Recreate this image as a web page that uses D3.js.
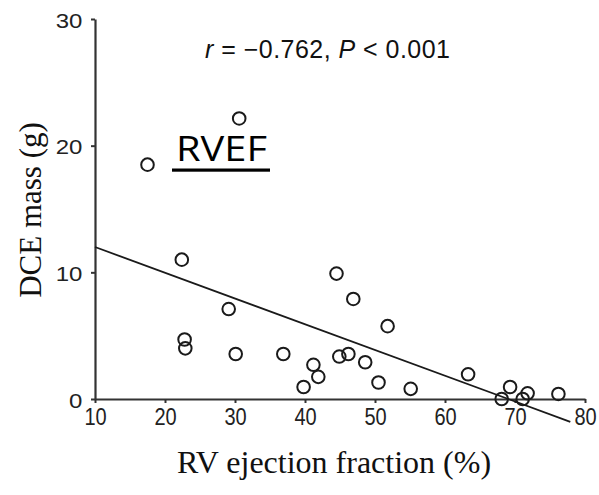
<!DOCTYPE html>
<html>
<head>
<meta charset="utf-8">
<script src="https://cdn.jsdelivr.net/npm/d3@7"></script>
<style>
  html, body { margin: 0; padding: 0; background: #fff; }
  svg { display: block; }
</style>
</head>
<body>
<svg id="chart" width="599" height="495"></svg>
<script>
// RV ejection fraction (%) per patient
const rvef = [17.5, 30.6, 22.4, 29.1, 22.8, 22.9, 30.1, 36.9, 39.8,
              44.5, 46.9, 51.8, 41.2, 41.9, 44.9, 46.2, 48.6, 50.5,
              55.1, 63.3, 69.3, 68.1, 71.8, 71.1, 76.2];
// DCE mass (g) per patient
const dceMass = [18.5, 22.15, 11.0, 7.1, 4.7, 4.0, 3.55, 3.55, 0.95,
                 9.9, 7.9, 5.75, 2.7, 1.75, 3.35, 3.55, 2.9, 1.3,
                 0.8, 1.95, 0.95, 0.0, 0.45, 0.0, 0.4];
// Least-squares fit line end points
const fitX = [10, 77.9];
const fitY = [12.0, -1.8];

const xTicks = [10, 20, 30, 40, 50, 60, 70, 80];
const yTicks = [0, 10, 20, 30];

const svg = d3.select("#chart");

const x = d3.scaleLinear().domain([10, 80]).range([95, 585]);
const y = d3.scaleLinear().domain([0, 30]).range([399, 19]);

const axisColor = "#333";

// x axis
const gx = svg.append("g")
  .attr("transform", `translate(0,${y(0)})`)
  .call(d3.axisBottom(x).tickValues(xTicks).tickSize(4).tickSizeOuter(0));
gx.select(".domain").attr("stroke", axisColor).attr("stroke-width", 2.2);
gx.selectAll(".tick line").attr("stroke", axisColor).attr("stroke-width", 2);
gx.selectAll(".tick text")
  .attr("y", 22).attr("dy", 0)
  .attr("transform", "scale(1,1.18)")
  .attr("fill", "#222")
  .style("font-family", "'Liberation Sans', Arial, sans-serif")
  .style("font-size", "20px");

// y axis
const gy = svg.append("g")
  .attr("transform", `translate(${x(10)},0)`)
  .call(d3.axisLeft(y).tickValues(yTicks).tickSize(4).tickSizeOuter(0));
gy.select(".domain").attr("stroke", axisColor).attr("stroke-width", 2.2);
gy.selectAll(".tick line").attr("stroke", axisColor).attr("stroke-width", 2);
gy.selectAll(".tick text")
  .attr("x", -10.5).attr("dy", "0.4em")
  .attr("transform", "scale(1.2,1)")
  .attr("fill", "#222")
  .style("font-family", "'Liberation Sans', Arial, sans-serif")
  .style("font-size", "20px");

// regression line
svg.append("path")
  .datum(d3.zip(fitX, fitY))
  .attr("fill", "none")
  .attr("stroke", "#1a1a1a")
  .attr("stroke-width", 1.8)
  .attr("d", d3.line().x(d => x(d[0])).y(d => y(d[1])));

// data points
svg.append("g")
  .selectAll("circle")
  .data(d3.zip(rvef, dceMass))
  .join("circle")
  .attr("cx", d => x(d[0]))
  .attr("cy", d => y(d[1]))
  .attr("r", 6.3)
  .attr("fill", "none")
  .attr("stroke", "#1a1a1a")
  .attr("stroke-width", 2);

// correlation annotation
const stat = svg.append("text")
  .attr("x", 205).attr("y", 58)
  .attr("fill", "#111")
  .attr("textLength", 245)
  .attr("lengthAdjust", "spacing")
  .style("font-family", "'Liberation Sans', Arial, sans-serif")
  .style("font-size", "25px");
stat.append("tspan").style("font-style", "italic").text("r");
stat.append("tspan").text(" = \u22120.762, ");
stat.append("tspan").style("font-style", "italic").text("P");
stat.append("tspan").text(" < 0.001");

// panel label
svg.append("text")
  .attr("x", 176).attr("y", 161)
  .attr("fill", "#000")
  .attr("textLength", 91)
  .attr("lengthAdjust", "spacingAndGlyphs")
  .style("font-family", "'Open Sans', 'Noto Sans', sans-serif")
  .style("font-size", "34px")
  .text("RVEF");
svg.append("rect")
  .attr("x", 172).attr("y", 168.5)
  .attr("width", 98).attr("height", 3.2)
  .attr("fill", "#000");

// axis titles
svg.append("text")
  .attr("transform", "translate(41,210) rotate(-90)")
  .attr("text-anchor", "middle")
  .attr("fill", "#111")
  .style("font-family", "'Liberation Serif', 'Times New Roman', serif")
  .style("font-size", "31px")
  .text("DCE mass (g)");

svg.append("text")
  .attr("x", 334).attr("y", 473)
  .attr("text-anchor", "middle")
  .attr("fill", "#111")
  .style("font-family", "'Liberation Serif', 'Times New Roman', serif")
  .style("font-size", "32px")
  .text("RV ejection fraction (%)");
</script>
</body>
</html>
